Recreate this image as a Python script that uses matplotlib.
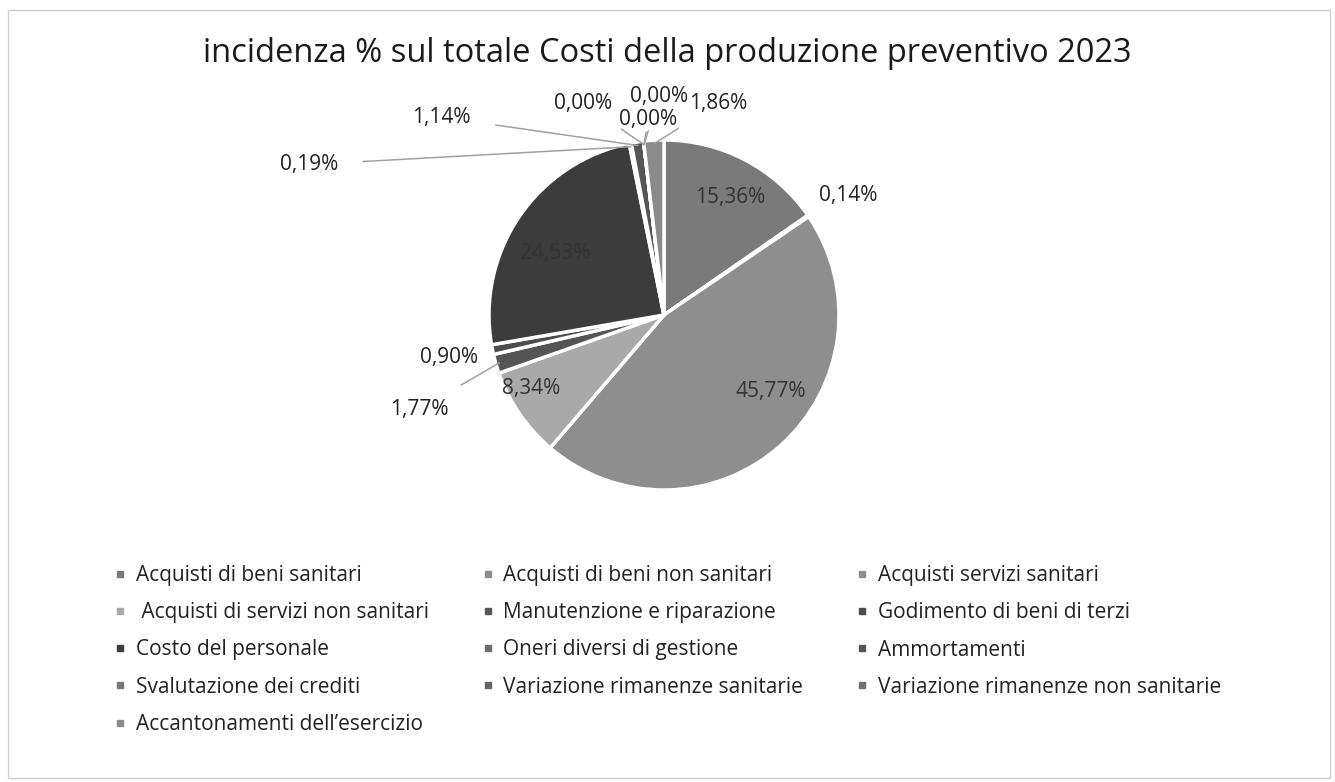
import matplotlib
matplotlib.use("Agg")
import matplotlib.pyplot as plt
from matplotlib.lines import Line2D
from matplotlib.patches import Rectangle
import numpy as np

plt.rcParams['font.family'] = ['Open Sans', 'DejaVu Sans']

categories = [
    "Acquisti di beni sanitari",
    "Acquisti di beni non sanitari",
    "Acquisti servizi sanitari",
    " Acquisti di servizi non sanitari",
    "Manutenzione e riparazione",
    "Godimento di beni di terzi",
    "Costo del personale",
    "Oneri diversi di gestione",
    "Ammortamenti",
    "Svalutazione dei crediti",
    "Variazione rimanenze sanitarie",
    "Variazione rimanenze non sanitarie",
    "Accantonamenti dell\u2019esercizio",
]
shares = [15.36, 0.14, 45.77, 8.34, 1.77, 0.90, 24.53, 0.19, 1.14, 0.00, 0.00, 0.00, 1.86]
colors = ['#7a7a7a', '#8c8c8c', '#8e8e8e', '#a9a9a9', '#555555', '#4c4c4c', '#3c3c3c',
          '#6c6c6c', '#555555', '#777777', '#666666', '#707070', '#8a8a8a']

# label placement, in pie-radius units from the centre
label_pos = [(0.38, 0.67), (1.05, 0.68), (0.61, -0.44), (-0.76, -0.42), (-1.40, -0.54),
             (-1.23, -0.24), (-0.62, 0.35), (-2.03, 0.86), (-1.27, 1.13), (-0.46, 1.21),
             (-0.09, 1.12), (-0.03, 1.25), (0.31, 1.21)]
inside = [True, False, True, True, False, False, True, False, False, False, False, False, False]
leader = [False, False, False, False, True, False, False, True, True, True, True, True, True]

W, H = 1335, 782
cx, cy, R = 664, 315, 175  # pie centre / radius in pixels

fig = plt.figure(figsize=(W / 100, H / 100), dpi=100)
fig.patches.append(Rectangle((8 / W, 4 / H), 1322 / W, 768 / H, transform=fig.transFigure,
                             fill=False, edgecolor='#d0d0d0', linewidth=1))

ax = fig.add_axes([0, 0, 1, 1])
wedges, _ = ax.pie(shares, colors=colors, startangle=90, counterclock=False,
                   wedgeprops=dict(edgecolor='white', linewidth=2.5))
ax.set_aspect('auto')
ax.set_xlim(-cx / R, (W - cx) / R)
ax.set_ylim(-(H - cy) / R, cy / R)
ax.axis('off')

for w, val, pos, ins, lead in zip(wedges, shares, label_pos, inside, leader):
    txt = f"{val:.2f}%".replace('.', ',')
    mid = np.deg2rad((w.theta1 + w.theta2) / 2)
    tip = (0.98 * np.cos(mid), 0.98 * np.sin(mid))
    if lead:
        ax.annotate(txt, xy=tip, xytext=pos, ha='center', va='center', fontsize=15,
                    color='#222222',
                    arrowprops=dict(arrowstyle='-', color='#a0a0a0', lw=1.1,
                                    shrinkA=16, shrinkB=0))
    else:
        ax.text(pos[0], pos[1], txt, ha='center', va='center', fontsize=15,
                color='#333333' if ins else '#222222')

ax.text(3 / R, (cy - 54) / R, "incidenza % sul totale Costi della produzione preventivo 2023",
        ha='center', va='center', fontsize=23.5, color='#1a1a1a')

handles = [Line2D([], [], marker='s', markersize=5, linestyle='', color=c) for c in colors]
order = [0, 3, 6, 9, 12, 1, 4, 7, 10, 2, 5, 8, 11]
fig.legend([handles[i] for i in order], [categories[i] for i in order], ncol=3,
           loc='upper left', bbox_to_anchor=(114 / W, 1 - 565 / H), frameon=False,
           fontsize=15, handlelength=0.6, handletextpad=0.45, columnspacing=2.52,
           labelspacing=0.78, borderpad=0, borderaxespad=0, labelcolor='#222222')

fig.savefig('out.png', dpi=100)
